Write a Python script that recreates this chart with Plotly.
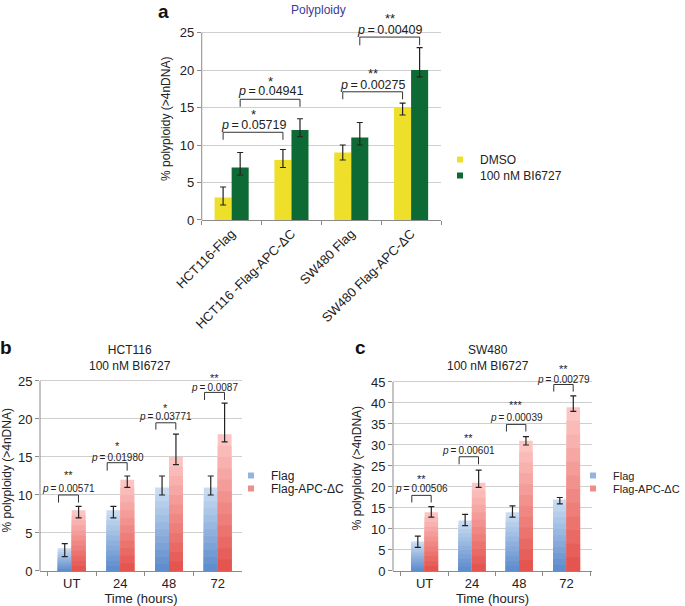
import plotly.graph_objects as go

# -- Datos ------------------------------------------------------------------
FONT = "Liberation Sans, Arial, sans-serif"

# Panel a: polyploidia por linea celular
cells_a = ["HCT116-Flag", "HCT116 -Flag-APC-ΔC", "SW480 Flag", "SW480 Flag-APC-ΔC"]
dmso = [3, 8, 9, 15]
dmso_hi = [4.4, 9.4, 10.0, 15.6]
dmso_lo = [2.0, 7.0, 8.0, 14.0]
bi = [7, 12, 11, 20]
bi_hi = [9.0, 13.5, 13.0, 23.0]
bi_lo = [6.0, 11.1, 10.0, 19.1]

# Panels b y c: curso temporal
times = ["UT", "24", "48", "72"]
hct_flag = [3, 8, 11, 11]
hct_flag_hi = [3.6, 8.5, 12.5, 12.5]
hct_flag_lo = [1.9, 7.0, 10.0, 10.0]
hct_apc = [8, 12, 15, 18]
hct_apc_hi = [8.5, 12.5, 18.0, 22.1]
hct_apc_lo = [7.0, 11.0, 14.0, 17.0]

sw_flag = [7, 12, 14, 17]
sw_flag_hi = [8.3, 13.5, 15.5, 17.5]
sw_flag_lo = [5.6, 10.8, 12.8, 16.0]
sw_apc = [14, 21, 31, 39]
sw_apc_hi = [15.3, 24.0, 32.0, 41.7]
sw_apc_lo = [12.8, 19.9, 30.0, 38.0]

pvals_a = ["0.05719", "0.04941", "0.00275", "0.00409"]
stars_a = ["*", "*", "**", "**"]
pvals_b = ["0.00571", "0.01980", "0.03771", "0.0087"]
stars_b = ["**", "*", "*", "**"]
pvals_c = ["0.00506", "0.00601", "0.00039", "0.00279"]
stars_c = ["**", "**", "***", "**"]

# -- Estilo -----------------------------------------------------------------
YELLOW = "#eee02a"
GREEN = "#0e6a34"
BLUE = ((201, 219, 241), (95, 141, 205))     # claro arriba -> oscuro abajo
PINK = ((252, 197, 195), (229, 85, 79))
GRID = "#cfcfcf"
AXIS = "#8a8a8a"
BARGAP = 0.43
NLAYERS = 12


def err(val, hi, lo):
    return dict(type="data", symmetric=False,
                array=[h - v for v, h in zip(val, hi)],
                arrayminus=[v - l for v, l in zip(val, lo)],
                color="#222", thickness=1.2, width=3)


def mix(c0, c1, t):
    return "rgb(%d,%d,%d)" % tuple(round(a + (b - a) * t) for a, b in zip(c0, c1))


fig = go.Figure()


def flat_bars(x, y, hi, lo, color, grp, xa, ya):
    fig.add_trace(go.Bar(x=x, y=y, marker_color=color, marker_line_width=0,
                         offsetgroup=grp, error_y=err(y, hi, lo), showlegend=False,
                         xaxis=xa, yaxis=ya))


def gradient_bars(x, y, hi, lo, cols, grp, xa, ya):
    # degradado vertical: capas superpuestas cada vez mas bajas y mas oscuras
    for k in range(NLAYERS):
        frac = 1 - k / NLAYERS
        fig.add_trace(go.Bar(x=x, y=[v * frac for v in y],
                             marker_color=mix(cols[0], cols[1], k / (NLAYERS - 1)),
                             marker_line_width=0, offsetgroup=grp, showlegend=False,
                             hoverinfo="skip", xaxis=xa, yaxis=ya))
    fig.add_trace(go.Bar(x=x, y=y, marker_color="rgba(0,0,0,0)", marker_line_width=0,
                         offsetgroup=grp, error_y=err(y, hi, lo), showlegend=False,
                         xaxis=xa, yaxis=ya))


flat_bars(cells_a, dmso, dmso_hi, dmso_lo, YELLOW, "1", "x", "y")
flat_bars(cells_a, bi, bi_hi, bi_lo, GREEN, "2", "x", "y")
gradient_bars(times, hct_flag, hct_flag_hi, hct_flag_lo, BLUE, "1", "x2", "y2")
gradient_bars(times, hct_apc, hct_apc_hi, hct_apc_lo, PINK, "2", "x2", "y2")
gradient_bars(times, sw_flag, sw_flag_hi, sw_flag_lo, BLUE, "1", "x3", "y3")
gradient_bars(times, sw_apc, sw_apc_hi, sw_apc_lo, PINK, "2", "x3", "y3")

# leyendas: una por entrada para controlar el espaciado (marcadores pequenos)
legend_items = [
    ("DMSO", YELLOW, "x", "y", 440, 158, 12),
    ("100 nM BI6727", GREEN, "x", "y", 440, 174, 12),
    ("Flag", mix(*BLUE, 0.5), "x2", "y2", 231, 474, 12),
    ("Flag-APC-ΔC", mix(*PINK, 0.5), "x2", "y2", 231, 487, 12),
    ("Flag", mix(*BLUE, 0.5), "x3", "y3", 573, 474, 11),
    ("Flag-APC-ΔC", mix(*PINK, 0.5), "x3", "y3", 573, 487, 11),
]
legends = {}
for n, (name, col, xa, ya, lx, ly, fs) in enumerate(legend_items):
    key = "legend" if n == 0 else f"legend{n + 1}"
    fig.add_trace(go.Scatter(x=[None], y=[None], mode="markers", name=name,
                             marker=dict(symbol="square", size=6, color=col),
                             legend=key, xaxis=xa, yaxis=ya))
    legends[key] = dict(x=lx / 685, y=1 - (ly - 13) / 606, xanchor="left", yanchor="top",
                        font=dict(size=fs), bgcolor="rgba(0,0,0,0)")


def bracket(xr, yr, x0, x1, ytop, yleg, ptxt, ytxt, star, ystar, psize, ssize):
    line = dict(color="#333", width=1)
    for (a, b, c, d) in [(x0, yleg, x0, ytop), (x0, ytop, x1, ytop), (x1, ytop, x1, yleg)]:
        fig.add_shape(type="line", xref=xr, yref=yr, x0=a, y0=b, x1=c, y1=d, line=line)
    xm = (x0 + x1) / 2
    fig.add_annotation(xref=xr, yref=yr, x=xm, y=ytxt, text=f"<i>p</i>\u2009=\u2009{ptxt}",
                       showarrow=False, yanchor="middle", font=dict(size=psize, color="#222"))
    fig.add_annotation(xref=xr, yref=yr, x=xm, y=ystar, text=star,
                       showarrow=False, yanchor="middle", font=dict(size=ssize, color="#222"))


# corchetes panel a (unen centros de barras)
h = (1 - BARGAP) / 4
br_a = [(0 - h, 1 - h, 11.7, 10.7, 12.7, 14.1),
        (0 + h, 1 + h, 16.1, 15.1, 17.2, 18.5),
        (2 - h, 3 - h, 17.1, 16.1, 18.0, 19.6),
        (2 + h, 3 + h, 24.4, 23.3, 25.3, 26.9)]
for (x0, x1, yt, yl, ytx, yst), p, s in zip(br_a, pvals_a, stars_a):
    bracket("x", "y", x0, x1, yt, yl, p, ytx, s, yst, 12.5, 13)

# corchetes panel b
br_b = [(0, 10.0, 9.0, 10.8, 12.6),
        (1, 14.25, 13.2, 14.9, 16.5),
        (2, 19.5, 18.6, 20.3, 21.5),
        (3, 23.5, 22.5, 24.2, 25.4)]
for (i, yt, yl, ytx, yst), p, s in zip(br_b, pvals_b, stars_b):
    bracket("x2", "y2", i - 0.27, i + 0.14, yt, yl, p, ytx, s, yst, 10, 11)

# corchetes panel c
br_c = [(0, 18.0, 16.3, 19.7, 21.8),
        (1, 27.2, 25.4, 28.6, 31.6),
        (2, 34.9, 33.2, 36.6, 39.5),
        (3, 44.4, 42.7, 45.6, 48.1)]
for (i, yt, yl, ytx, yst), p, s in zip(br_c, pvals_c, stars_c):
    bracket("x3", "y3", i - 0.27, i + 0.14, yt, yl, p, ytx, s, yst, 10, 11)

# ejes y dibujados hasta el ultimo tick (el rango se extiende para los corchetes)
for xr, yr, top in [("x domain", "y", 25), ("x2 domain", "y2", 25), ("x3 domain", "y3", 45)]:
    fig.add_shape(type="line", xref=xr, yref=yr, x0=0, x1=0, y0=0, y1=top,
                  line=dict(color=AXIS, width=1))

xcommon = dict(type="category", showgrid=False, showline=True, linecolor=AXIS,
               ticks="outside", tickson="boundaries", ticklen=4, tickcolor=AXIS,
               tickfont=dict(size=13, color="#222"), automargin=False)
ycommon = dict(showgrid=True, gridcolor=GRID, zeroline=False, ticks="outside",
               ticklen=4, tickcolor=AXIS, tickfont=dict(size=13, color="#222"),
               title_font=dict(size=12, color="#222"), title_standoff=6, showline=False,
               automargin=False, title_text="% polyploidy (>4nDNA)")

fig.update_layout(
    width=685, height=606,
    margin=dict(l=0, r=0, t=0, b=0, autoexpand=False),
    paper_bgcolor="white", plot_bgcolor="white",
    font=dict(family=FONT, color="#222"),
    barmode="group", bargap=BARGAP,
    xaxis=dict(xcommon, domain=[0.2945, 0.6438], anchor="y", tickangle=-45,
               tickfont=dict(size=13, color="#222")),
    yaxis=dict(ycommon, domain=[0.637, 0.971], anchor="x", range=[0, 27],
               tickvals=[0, 5, 10, 15, 20, 25]),
    xaxis2=dict(xcommon, domain=[0.0584, 0.3533], anchor="y2",
                title_text="Time (hours)", title_font=dict(size=13, color="#222"),
                title_standoff=4),
    yaxis2=dict(ycommon, domain=[0.0578, 0.3901], anchor="x2", range=[0, 26.5],
                tickvals=[0, 5, 10, 15, 20, 25]),
    xaxis3=dict(xcommon, domain=[0.5737, 0.8642], anchor="y3",
                title_text="Time (hours)", title_font=dict(size=13, color="#222"),
                title_standoff=4),
    yaxis3=dict(ycommon, domain=[0.0578, 0.3974], anchor="x3", range=[0, 49],
                tickvals=[0, 5, 10, 15, 20, 25, 30, 35, 40, 45]),
    **legends,
)

# titulos y letras de panel
texts = [
    ("Polyploidy", 318, 10, 12, "#3a3a9a"),
    ("HCT116<br>100 nM BI6727", 130, 358, 12, "#222"),
    ("SW480<br>100 nM BI6727", 488, 358, 12, "#222"),
    ("<b>a</b>", 163, 11, 19, "#111"),
    ("<b>b</b>", 6, 347, 19, "#111"),
    ("<b>c</b>", 360, 347, 19, "#111"),
]
for txt, px, py, fs, col in texts:
    fig.add_annotation(xref="paper", yref="paper", x=px / 685, y=1 - py / 606, text=txt,
                       xanchor="center", yanchor="middle", showarrow=False,
                       font=dict(size=fs, color=col))

# sin margen del body para que la figura ocupe toda la ventana
fig.write_html("out.html", config={"displayModeBar": False},
               post_script="document.body.style.margin='0';")
